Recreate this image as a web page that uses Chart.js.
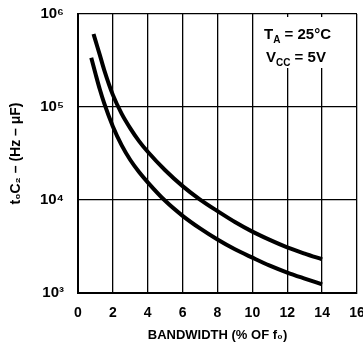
<!DOCTYPE html>
<html lang="en">
  <head>
    <meta charset="UTF-8" />
    <script src="https://cdn.jsdelivr.net/npm/chart.js"></script>
    <title>Bandwidth vs t0C2</title>
    <style>
      html,
      body {
        margin: 0;
        padding: 0;
        background: #fff;
        overflow: hidden;
        width: 363px;
        height: 352px;
      }
      #wrap {
        width: 380px;
        height: 352px;
      }
    </style>
  </head>
  <body>
    <div id="wrap"><canvas id="myChart" width="380" height="352"></canvas></div>
    <script>
      // values
      const upperX = [0.89, 1, 1.25, 1.5, 2, 2.5, 3, 3.5, 4, 5, 6, 7, 8, 9, 10, 11, 12, 13, 14];
      const upperY = [610000, 520000, 363000, 251000, 135000, 85000, 59000, 43000, 33000, 20900, 14100, 10100, 7600, 5800, 4570, 3720, 3090, 2650, 2300];
      const lowerX = [0.76, 1, 1.25, 1.5, 2, 2.5, 3, 3.5, 4, 5, 6, 7, 8, 9, 10, 11, 12, 13, 14];
      const lowerY = [338000, 229000, 155000, 110000, 61700, 38900, 26900, 20000, 15500, 9800, 6760, 4950, 3760, 2950, 2400, 1970, 1660, 1430, 1240];
      const yTicks = [1000, 10000, 100000, 1000000];
      const xTitle = "BANDWIDTH (% OF f\u2080)";
      const yTitle = "t\u2080C\u2082 \u2013 (Hz \u2013 \u03BCF)";

      const FONT = "'Liberation Sans Narrow', 'Liberation Sans', Arial, sans-serif";
      const sup = { 3: "\u00B3", 4: "\u2074", 5: "\u2075", 6: "\u2076" };

      const toPoints = (xs, ys) => xs.map((x, i) => ({ x: x, y: ys[i] }));

      // note box in top right corner
      const notePlugin = {
        id: "note",
        afterDraw(chart) {
          const ctx = chart.ctx;
          const a = chart.chartArea;
          ctx.save();
          ctx.fillStyle = "#fff";
          ctx.fillRect(a.left + 180, a.top + 3, 82, 51);
          ctx.fillStyle = "#000";
          ctx.textBaseline = "alphabetic";
          let x = a.left + 186;
          let y = a.top + 25;
          ctx.font = "bold 15px " + FONT;
          ctx.fillText("T", x, y);
          x += ctx.measureText("T").width;
          ctx.font = "bold 10px " + FONT;
          ctx.fillText("A", x, y + 4);
          x += ctx.measureText("A").width;
          ctx.font = "bold 15px " + FONT;
          ctx.fillText(" = 25\u00B0C", x, y);

          x = a.left + 188;
          y = a.top + 48;
          ctx.fillText("V", x, y);
          x += ctx.measureText("V").width;
          ctx.font = "bold 10px " + FONT;
          ctx.fillText("CC", x, y + 4);
          x += ctx.measureText("CC").width;
          ctx.font = "bold 15px " + FONT;
          ctx.fillText(" = 5V", x, y);
          ctx.restore();
        },
      };

      const ctx = document.getElementById("myChart").getContext("2d");
      new Chart(ctx, {
        type: "line",
        data: {
          datasets: [
            {
              data: toPoints(upperX, upperY),
              borderColor: "#000",
              borderWidth: 4,
              pointRadius: 0,
              cubicInterpolationMode: "monotone",
              borderCapStyle: "butt",
            },
            {
              data: toPoints(lowerX, lowerY),
              borderColor: "#000",
              borderWidth: 4,
              pointRadius: 0,
              cubicInterpolationMode: "monotone",
              borderCapStyle: "butt",
            },
          ],
        },
        options: {
          responsive: false,
          animation: false,
          layout: { padding: { top: 0, right: 23, left: 0, bottom: 0 } },
          plugins: {
            legend: { display: false },
            tooltip: { enabled: false },
          },
          scales: {
            x: {
              type: "linear",
              min: 0,
              max: 16,
              afterFit: (s) => {
                s.height = 59;
              },
              ticks: {
                stepSize: 2,
                color: "#000",
                padding: 12,
                font: { family: FONT, size: 14, weight: "bold" },
              },
              grid: { color: "#000", lineWidth: 1.3, drawTicks: false },
              border: { color: "#000", width: 2 },
              title: {
                display: true,
                text: xTitle,
                color: "#000",
                padding: { top: 0, bottom: 9 },
                font: { family: FONT, size: 13, weight: "bold" },
              },
            },
            y: {
              type: "logarithmic",
              min: 1000,
              max: 1000000,
              afterFit: (s) => {
                s.width = 78;
                s.paddingTop = 14; // tick padding would otherwise push the plot down
                s.paddingBottom = 0;
              },
              afterBuildTicks: (s) => {
                s.ticks = yTicks.map((v) => ({ value: v }));
              },
              ticks: {
                color: "#000",
                padding: 14,
                font: { family: FONT, size: 15, weight: "bold" },
                callback: (v) => "10" + sup[Math.round(Math.log10(v))],
              },
              grid: { color: "#000", lineWidth: 1.3, drawTicks: false },
              border: { color: "#000", width: 2 },
              title: {
                display: true,
                text: yTitle,
                color: "#000",
                padding: { top: 8, bottom: 0 },
                font: { family: FONT, size: 14, weight: "bold" },
              },
            },
          },
        },
        plugins: [notePlugin],
      });
    </script>
  </body>
</html>
